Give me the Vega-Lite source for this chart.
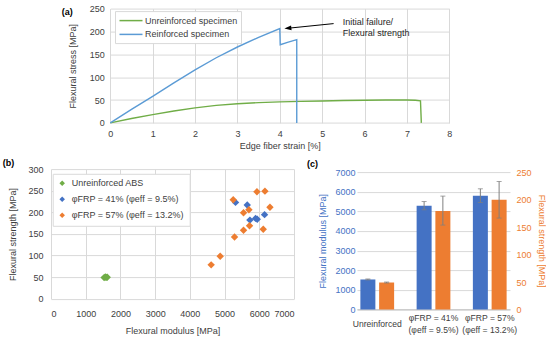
{
  "$schema": "https://vega.github.io/schema/vega-lite/v6.json",
  "padding": {"left": 2, "top": 4.6, "right": 0, "bottom": 0},
  "config": {
    "font": "Liberation Sans",
    "view": {"stroke": null},
    "axis": {"labelFontSize": 9, "titleFontSize": 9, "titleFontWeight": "normal", "labelColor": "#404040", "titleColor": "#404040", "ticks": false, "domain": false, "gridColor": "#d9d9d9", "gridWidth": 1, "labelOverlap": false},
    "legend": {"labelFontSize": 9, "labelColor": "#404040", "labelFont": "Liberation Sans"},
    "title": {"fontSize": 9, "fontWeight": "bold", "color": "#000000", "offset": 0}
  },
  "datasets": {
    "curves": [
      {"specimen": "Unreinforced specimen", "i": 0, "strain": 0, "stress": 0},
      {"specimen": "Unreinforced specimen", "i": 1, "strain": 0.5, "stress": 9.5},
      {"specimen": "Unreinforced specimen", "i": 2, "strain": 1, "stress": 18.2},
      {"specimen": "Unreinforced specimen", "i": 3, "strain": 1.5, "stress": 26},
      {"specimen": "Unreinforced specimen", "i": 4, "strain": 2, "stress": 32.8},
      {"specimen": "Unreinforced specimen", "i": 5, "strain": 2.5, "stress": 38.3},
      {"specimen": "Unreinforced specimen", "i": 6, "strain": 3, "stress": 42},
      {"specimen": "Unreinforced specimen", "i": 7, "strain": 3.5, "stress": 44.3},
      {"specimen": "Unreinforced specimen", "i": 8, "strain": 4, "stress": 45.9},
      {"specimen": "Unreinforced specimen", "i": 9, "strain": 4.5, "stress": 47.1},
      {"specimen": "Unreinforced specimen", "i": 10, "strain": 5, "stress": 48},
      {"specimen": "Unreinforced specimen", "i": 11, "strain": 5.5, "stress": 48.9},
      {"specimen": "Unreinforced specimen", "i": 12, "strain": 6, "stress": 49.6},
      {"specimen": "Unreinforced specimen", "i": 13, "strain": 6.5, "stress": 50},
      {"specimen": "Unreinforced specimen", "i": 14, "strain": 7, "stress": 50},
      {"specimen": "Unreinforced specimen", "i": 15, "strain": 7.2, "stress": 49.5},
      {"specimen": "Unreinforced specimen", "i": 16, "strain": 7.32, "stress": 48.3},
      {"specimen": "Unreinforced specimen", "i": 17, "strain": 7.34, "stress": 0},
      {"specimen": "Reinforced specimen", "i": 0, "strain": 0, "stress": 0},
      {"specimen": "Reinforced specimen", "i": 1, "strain": 0.5, "stress": 29.5},
      {"specimen": "Reinforced specimen", "i": 2, "strain": 1, "stress": 58},
      {"specimen": "Reinforced specimen", "i": 3, "strain": 1.5, "stress": 87.5},
      {"specimen": "Reinforced specimen", "i": 4, "strain": 2, "stress": 116},
      {"specimen": "Reinforced specimen", "i": 5, "strain": 2.5, "stress": 142.5},
      {"specimen": "Reinforced specimen", "i": 6, "strain": 3, "stress": 166},
      {"specimen": "Reinforced specimen", "i": 7, "strain": 3.5, "stress": 187},
      {"specimen": "Reinforced specimen", "i": 8, "strain": 4, "stress": 206.3},
      {"specimen": "Reinforced specimen", "i": 9, "strain": 4.01, "stress": 171},
      {"specimen": "Reinforced specimen", "i": 10, "strain": 4.2, "stress": 176.5},
      {"specimen": "Reinforced specimen", "i": 11, "strain": 4.4, "stress": 182},
      {"specimen": "Reinforced specimen", "i": 12, "strain": 4.4, "stress": 0}
    ],
    "arrow": [{"strain": 5.27, "stress": 217.2, "strain2": 4.19, "stress2": 207.0}],
    "head": [{"strain": 4.19, "stress": 207.0}],
    "notes": [
      {"strain": 5.484, "stress": 220, "t": "Initial failure/"},
      {"strain": 5.484, "stress": 196.9, "t": "Flexural strength"}
    ],
    "scatter": [
      {"group": "Unreinforced ABS", "modulus": 1530, "strength": 49},
      {"group": "Unreinforced ABS", "modulus": 1565, "strength": 50.5},
      {"group": "Unreinforced ABS", "modulus": 1590, "strength": 49.5},
      {"group": "Unreinforced ABS", "modulus": 1620, "strength": 50},
      {"group": "φFRP = 41% (φeff = 9.5%)", "modulus": 5316, "strength": 223},
      {"group": "φFRP = 41% (φeff = 9.5%)", "modulus": 5653, "strength": 217},
      {"group": "φFRP = 41% (φeff = 9.5%)", "modulus": 5730, "strength": 182},
      {"group": "φFRP = 41% (φeff = 9.5%)", "modulus": 5893, "strength": 186},
      {"group": "φFRP = 41% (φeff = 9.5%)", "modulus": 5941, "strength": 184},
      {"group": "φFRP = 41% (φeff = 9.5%)", "modulus": 6152, "strength": 194.6},
      {"group": "φFRP = 57% (φeff = 13.2%)", "modulus": 4614, "strength": 78.5},
      {"group": "φFRP = 57% (φeff = 13.2%)", "modulus": 4874, "strength": 98.5},
      {"group": "φFRP = 57% (φeff = 13.2%)", "modulus": 5287, "strength": 143},
      {"group": "φFRP = 57% (φeff = 13.2%)", "modulus": 5546, "strength": 158.5},
      {"group": "φFRP = 57% (φeff = 13.2%)", "modulus": 5719, "strength": 169},
      {"group": "φFRP = 57% (φeff = 13.2%)", "modulus": 6114, "strength": 160.8},
      {"group": "φFRP = 57% (φeff = 13.2%)", "modulus": 5546, "strength": 199},
      {"group": "φFRP = 57% (φeff = 13.2%)", "modulus": 5701, "strength": 206},
      {"group": "φFRP = 57% (φeff = 13.2%)", "modulus": 5249, "strength": 229},
      {"group": "φFRP = 57% (φeff = 13.2%)", "modulus": 6307, "strength": 211.6},
      {"group": "φFRP = 57% (φeff = 13.2%)", "modulus": 5932, "strength": 247.7},
      {"group": "φFRP = 57% (φeff = 13.2%)", "modulus": 6163, "strength": 249}
    ],
    "bars": [
      {"grp": "Unreinforced", "series": "Modulus", "value": 1530, "lo": 1505, "hi": 1555},
      {"grp": "φFRP = 41%|(φeff = 9.5%)", "series": "Modulus", "value": 5283, "lo": 5080, "hi": 5500},
      {"grp": "φFRP = 57%|(φeff = 13.2%)", "series": "Modulus", "value": 5793, "lo": 5450, "hi": 6149},
      {"grp": "Unreinforced", "series": "Strength", "value": 49.1, "lo": 48.2, "hi": 50},
      {"grp": "φFRP = 41%|(φeff = 9.5%)", "series": "Strength", "value": 179, "lo": 153.6, "hi": 206.3},
      {"grp": "φFRP = 57%|(φeff = 13.2%)", "series": "Strength", "value": 199.6, "lo": 166.3, "hi": 232.9}
    ]
  },
  "resolve": {"scale": {"color": "independent"}, "legend": {"color": "independent"}},
  "spacing": 7.5,
  "vconcat": [
    {
      "width": 398.3,
      "height": 114.3,
      "title": {"text": "(a)", "anchor": "start", "frame": "group", "dx": 10.7, "dy": 16.8},
      "encoding": {
        "x": {"field": "strain", "type": "quantitative", "scale": {"domain": [0, 8], "range": [59.3, 398.3], "nice": false},
              "axis": {"values": [0, 1, 2, 3, 4, 5, 6, 7, 8], "title": "Edge fiber strain [%]", "labelFlush": false, "labelPadding": 6.5, "titlePadding": 3}},
        "y": {"field": "stress", "type": "quantitative", "scale": {"domain": [0, 250], "nice": false},
              "axis": {"values": [0, 50, 100, 150, 200, 250], "title": "Flexural stress [MPa]", "offset": -59.3, "labelPadding": 6, "titlePadding": 12}}
      },
      "layer": [
        {
          "data": {"name": "curves"},
          "mark": {"type": "line", "strokeWidth": 1.4},
          "encoding": {
            "color": {"field": "specimen", "type": "nominal",
                      "scale": {"domain": ["Unreinforced specimen", "Reinforced specimen"], "range": ["#70AD47", "#5B9BD5"]},
                      "legend": {"title": null, "orient": "none", "legendX": 64, "legendY": 2.5, "symbolType": "M-1,0L3.6,0", "symbolSize": 100, "symbolStrokeWidth": 1.5, "strokeColor": "#d9d9d9", "fillColor": "white", "padding": 3.5, "rowPadding": 2.8, "labelOffset": 14.4}},
            "order": {"field": "i", "type": "quantitative"}
          }
        },
        {
          "data": {"name": "arrow"},
          "mark": {"type": "rule", "color": "#000000", "strokeWidth": 1},
          "encoding": {
            "x2": {"field": "strain2"},
            "y2": {"field": "stress2"}
          }
        },
        {
          "data": {"name": "head"},
          "mark": {"type": "point", "shape": "M-1,0L1,-0.7L1,0.7Z", "filled": true, "color": "#000000", "size": 49, "opacity": 1, "angle": 354},
          "encoding": {}
        },
        {
          "data": {"name": "notes"},
          "mark": {"type": "text", "align": "left", "baseline": "middle", "fontSize": 9, "color": "#262626"},
          "encoding": {
            "text": {"field": "t"}
          }
        }
      ]
    },
    {
      "spacing": 13,
      "resolve": {"scale": {"color": "independent"}, "legend": {"color": "independent"}},
      "hconcat": [
        {
          "width": 243,
          "height": 129.7,
          "title": {"text": "(b)", "anchor": "start", "frame": "group", "dx": -48.3, "dy": 6.5},
          "data": {"name": "scatter"},
          "mark": {"type": "point", "shape": "diamond", "filled": true, "size": 55, "opacity": 1},
          "encoding": {
            "x": {"field": "modulus", "type": "quantitative", "scale": {"domain": [0, 7000], "nice": false},
                  "axis": {"values": [0, 1000, 2000, 3000, 4000, 5000, 6000, 7000], "format": "d", "labelFlush": true, "title": "Flexural modulus [MPa]", "labelPadding": 11, "titlePadding": 8}},
            "y": {"field": "strength", "type": "quantitative", "scale": {"domain": [0, 300], "nice": false},
                  "axis": {"values": [0, 50, 100, 150, 200, 250, 300], "title": "Flexural strength [MPa]", "labelFlush": false, "labelPadding": 8, "titlePadding": 10}},
            "color": {"field": "group", "type": "nominal",
                      "scale": {"domain": ["Unreinforced ABS", "φFRP = 41% (φeff = 9.5%)", "φFRP = 57% (φeff = 13.2%)"], "range": ["#70AD47", "#4472C4", "#ED7D31"]},
                      "legend": {"title": null, "orient": "none", "legendX": 1.7, "legendY": 4.7, "symbolType": "diamond", "symbolSize": 30, "strokeColor": "#d9d9d9", "fillColor": "white", "padding": 5, "rowPadding": 6, "labelOffset": 5}}
          }
        },
        {
          "width": 153,
          "height": 140.4,
          "title": {"text": "(c)", "anchor": "start", "frame": "group", "dx": -50, "dy": 4.5},
          "data": {"name": "bars"},
          "encoding": {
            "x": {"field": "grp", "type": "nominal", "sort": null, "scale": {"paddingInner": 0.4, "paddingOuter": 0.06},
                  "axis": {"title": null, "domain": true, "domainColor": "#bfbfbf", "labelAngle": 0, "labelFontSize": 8.6, "labelExpr": "split(datum.label, '|')", "labelBaseline": "middle",
                           "labelPadding": {"condition": {"test": "datum.value === 'Unreinforced'", "value": 14.5}, "value": 8.3},
                           "labelOverlap": false, "labelBound": false, "labelLineHeight": 11.3, "grid": false}},
            "xOffset": {"field": "series", "type": "nominal", "scale": {"domain": ["Modulus", "Strength"], "paddingInner": 0.2}}
          },
          "layer": [
            {
              "transform": [{"filter": "datum.series === 'Modulus'"}],
              "layer": [
                {
                  "mark": {"type": "bar", "color": "#4472C4"},
                  "encoding": {
                    "y": {"field": "value", "type": "quantitative", "title": "Flexural modulus [MPa]", "scale": {"domain": [0, 7000], "nice": false, "range": [140.4, 3]},
                          "axis": {"orient": "left", "values": [0, 1000, 2000, 3000, 4000, 5000, 6000, 7000], "format": "d", "labelFlush": false, "labelColor": "#4472C4", "titleColor": "#4472C4", "labelPadding": 2, "titlePadding": 7, "grid": true}}
                  }
                },
                {
                  "mark": {"type": "rule", "color": "#7f7f7f", "strokeWidth": 1},
                  "encoding": {
                    "y": {"field": "lo", "type": "quantitative", "title": "Flexural modulus [MPa]",
                          "axis": {"orient": "left", "values": [0, 1000, 2000, 3000, 4000, 5000, 6000, 7000], "format": "d", "labelFlush": false, "labelColor": "#4472C4", "titleColor": "#4472C4", "labelPadding": 2, "titlePadding": 7, "grid": true}},
                    "y2": {"field": "hi"}
                  }
                },
                {
                  "mark": {"type": "tick", "color": "#7f7f7f", "orient": "horizontal", "size": 5, "thickness": 1},
                  "encoding": {
                    "y": {"field": "lo", "type": "quantitative", "title": "Flexural modulus [MPa]",
                          "axis": {"orient": "left", "values": [0, 1000, 2000, 3000, 4000, 5000, 6000, 7000], "format": "d", "labelFlush": false, "labelColor": "#4472C4", "titleColor": "#4472C4", "labelPadding": 2, "titlePadding": 7, "grid": true}}
                  }
                },
                {
                  "mark": {"type": "tick", "color": "#7f7f7f", "orient": "horizontal", "size": 5, "thickness": 1},
                  "encoding": {
                    "y": {"field": "hi", "type": "quantitative", "title": "Flexural modulus [MPa]",
                          "axis": {"orient": "left", "values": [0, 1000, 2000, 3000, 4000, 5000, 6000, 7000], "format": "d", "labelFlush": false, "labelColor": "#4472C4", "titleColor": "#4472C4", "labelPadding": 2, "titlePadding": 7, "grid": true}}
                  }
                }
              ]
            },
            {
              "transform": [{"filter": "datum.series === 'Strength'"}],
              "layer": [
                {
                  "mark": {"type": "bar", "color": "#ED7D31"},
                  "encoding": {
                    "y": {"field": "value", "type": "quantitative", "title": "Flexural strength [MPa]", "scale": {"domain": [0, 250], "nice": false, "range": [140.4, 3]},
                          "axis": {"orient": "right", "values": [0, 50, 100, 150, 200, 250], "labelFlush": false, "labelColor": "#ED7D31", "titleColor": "#ED7D31", "labelPadding": 6, "titlePadding": 5, "grid": false}}
                  }
                },
                {
                  "mark": {"type": "rule", "color": "#7f7f7f", "strokeWidth": 1},
                  "encoding": {
                    "y": {"field": "lo", "type": "quantitative", "title": "Flexural strength [MPa]",
                          "axis": {"orient": "right", "values": [0, 50, 100, 150, 200, 250], "labelFlush": false, "labelColor": "#ED7D31", "titleColor": "#ED7D31", "labelPadding": 6, "titlePadding": 5, "grid": false}},
                    "y2": {"field": "hi"}
                  }
                },
                {
                  "mark": {"type": "tick", "color": "#7f7f7f", "orient": "horizontal", "size": 5, "thickness": 1},
                  "encoding": {
                    "y": {"field": "lo", "type": "quantitative", "title": "Flexural strength [MPa]",
                          "axis": {"orient": "right", "values": [0, 50, 100, 150, 200, 250], "labelFlush": false, "labelColor": "#ED7D31", "titleColor": "#ED7D31", "labelPadding": 6, "titlePadding": 5, "grid": false}}
                  }
                },
                {
                  "mark": {"type": "tick", "color": "#7f7f7f", "orient": "horizontal", "size": 5, "thickness": 1},
                  "encoding": {
                    "y": {"field": "hi", "type": "quantitative", "title": "Flexural strength [MPa]",
                          "axis": {"orient": "right", "values": [0, 50, 100, 150, 200, 250], "labelFlush": false, "labelColor": "#ED7D31", "titleColor": "#ED7D31", "labelPadding": 6, "titlePadding": 5, "grid": false}}
                  }
                }
              ]
            }
          ],
          "resolve": {"scale": {"y": "independent"}}
        }
      ]
    }
  ]
}
